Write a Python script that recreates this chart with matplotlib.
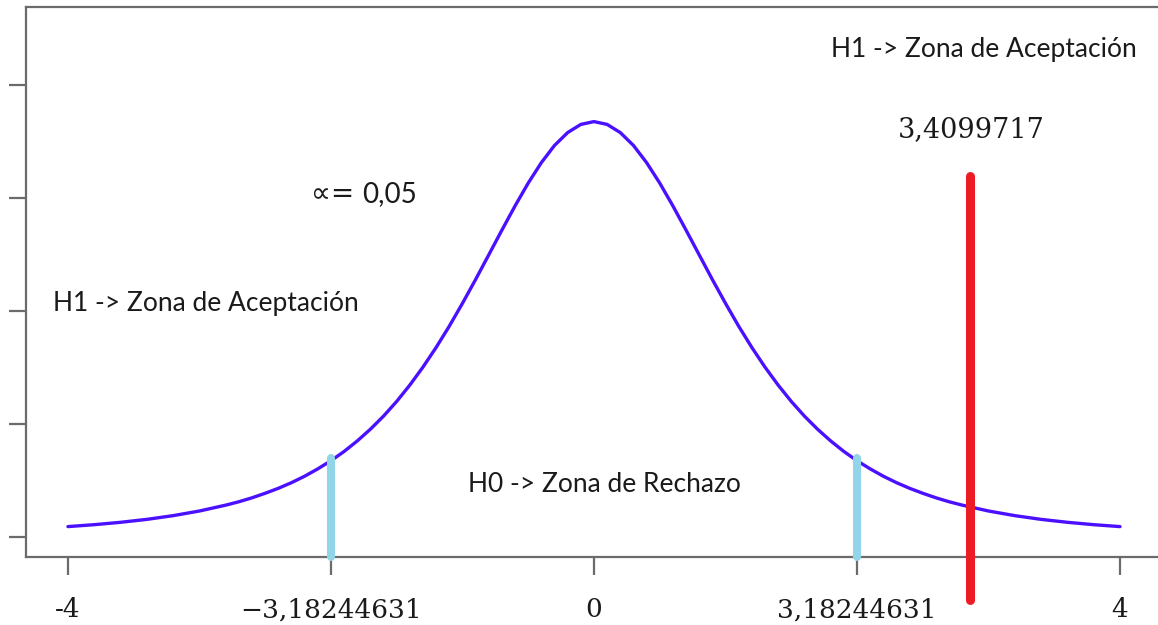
import matplotlib
matplotlib.use("Agg")
import matplotlib.pyplot as plt

# t density (df = 3)
curve_x = [-4.0, -3.8, -3.6, -3.4, -3.2, -3.0, -2.8, -2.7, -2.6, -2.5, -2.4,
           -2.3, -2.2, -2.1, -2.0, -1.9, -1.8, -1.7, -1.6, -1.5, -1.4, -1.3,
           -1.2, -1.1, -1.0, -0.9, -0.8, -0.7, -0.6, -0.5, -0.4, -0.3, -0.2,
           -0.1, 0.0, 0.1, 0.2, 0.3, 0.4, 0.5, 0.6, 0.7, 0.8, 0.9, 1.0, 1.1,
           1.2, 1.3, 1.4, 1.5, 1.6, 1.7, 1.8, 1.9, 2.0, 2.1, 2.2, 2.3, 2.4,
           2.5, 2.6, 2.7, 2.8, 3.0, 3.2, 3.4, 3.6, 3.8, 4.0]
curve_y = [0.0092, 0.0109, 0.0130, 0.0156, 0.0189, 0.0230, 0.0282, 0.0312,
           0.0347, 0.0387, 0.0431, 0.0481, 0.0538, 0.0603, 0.0675, 0.0757,
           0.0850, 0.0954, 0.1070, 0.1200, 0.1345, 0.1504, 0.1678, 0.1866,
           0.2068, 0.2279, 0.2497, 0.2716, 0.2930, 0.3132, 0.3313, 0.3465,
           0.3579, 0.3651, 0.3676, 0.3651, 0.3579, 0.3465, 0.3313, 0.3132,
           0.2930, 0.2716, 0.2497, 0.2279, 0.2068, 0.1866, 0.1678, 0.1504,
           0.1345, 0.1200, 0.1070, 0.0954, 0.0850, 0.0757, 0.0675, 0.0603,
           0.0538, 0.0481, 0.0431, 0.0387, 0.0347, 0.0312, 0.0282, 0.0230,
           0.0189, 0.0156, 0.0130, 0.0109, 0.0092]

tick_pos = [-4, -2, 0, 2, 4]
tick_labels = ["-4", "\u22123,18244631", "0", "3,18244631", "4"]
y_ticks = [0.0, 0.1, 0.2, 0.3, 0.4]

crit_x = [-2, 2]          # critical values (drawn at the +/-2 tick)
crit_top = [0.0699, 0.0699]
stat_x = 2.86             # observed statistic marker
stat_lo, stat_hi = -0.0558, 0.3195

fig = plt.figure(figsize=(11.58, 6.25), dpi=100)
ax = fig.add_axes([26 / 1158, 68 / 625, 1 - 26 / 1158, 550 / 625])
ax.set_xlim(-4.319, 4.289)
ax.set_ylim(-0.0177, 0.469)

ax.plot(curve_x, curve_y, color="#4a10ff", lw=2.4, solid_capstyle="round", zorder=3)

for cx, ct in zip(crit_x, crit_top):
    ax.plot([cx, cx], [-0.0177, ct], color="#93d5e8", lw=5.8,
            solid_capstyle="round", zorder=4, clip_on=False)

ax.plot([stat_x, stat_x], [stat_lo, stat_hi], color="#ed1c24", lw=6.5,
        solid_capstyle="round", zorder=5, clip_on=False)

for side in ["left", "top", "bottom"]:
    ax.spines[side].set_color("#6b6b6b")
    ax.spines[side].set_linewidth(1.6)
ax.spines["right"].set_visible(False)

ax.set_yticks(y_ticks)
ax.set_yticklabels([])
ax.set_xticks(tick_pos)
ax.set_xticklabels(tick_labels, family="DejaVu Serif", fontsize=19, color="#1a1a1a")
ax.tick_params(axis="y", length=12, width=1.6, color="#6b6b6b")
ax.tick_params(axis="x", length=13, width=1.6, color="#6b6b6b", pad=16)

sans = "Lato"
ink = "#1a1a1a"
fig.text(984 / 1158, 1 - 50 / 625, "H1 -> Zona de Aceptación", family=sans,
         fontsize=19, ha="center", va="center", color=ink)
fig.text(971 / 1158, 1 - 130 / 625, "3,4099717", family="DejaVu Serif",
         fontsize=19.5, ha="center", va="center", color=ink)
fig.text(354 / 1158, 1 - 194 / 625, "\u221d=", family="DejaVu Sans",
         fontsize=20, ha="right", va="center", color=ink)
fig.text(362 / 1158, 1 - 194 / 625, "0,05", family=sans,
         fontsize=20, ha="left", va="center", color=ink)
fig.text(206 / 1158, 1 - 303 / 625, "H1 -> Zona de Aceptación", family=sans,
         fontsize=19, ha="center", va="center", color=ink)
fig.text(604 / 1158, 1 - 485 / 625, "H0 -> Zona de Rechazo", family=sans,
         fontsize=19, ha="center", va="center", color=ink)

fig.savefig("out.png", dpi=100)
